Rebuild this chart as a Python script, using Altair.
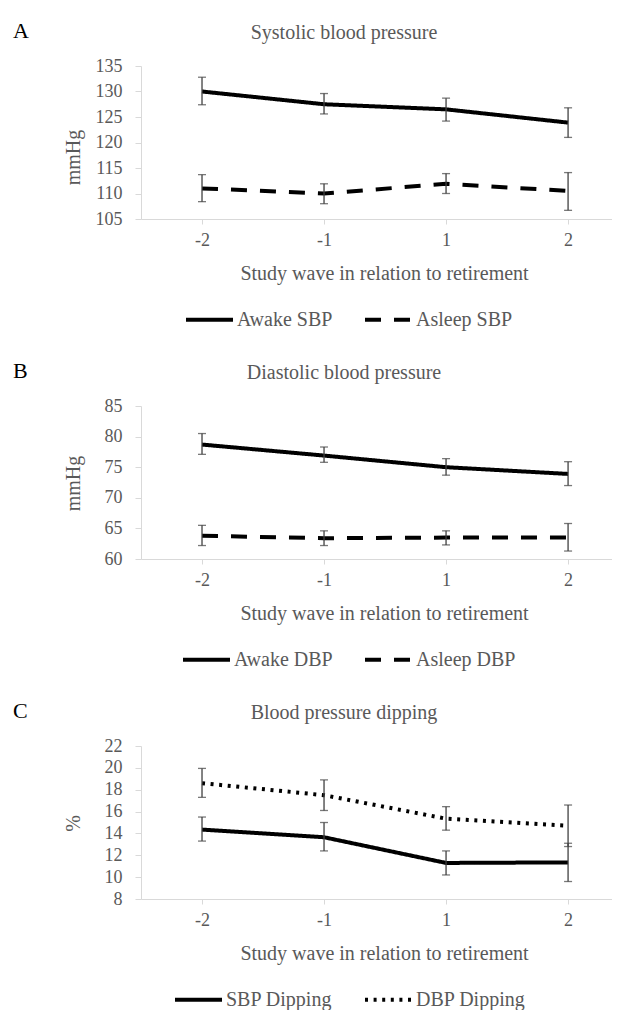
import json
import altair as alt
import pandas as pd

FONT = "Liberation Serif"
GREY = "#595959"
AXIS_GREY = "#d9d9d9"
BAR_GREY = "#404040"

waves = ["-2", "-1", "1", "2"]

# Panel A: systolic
sys_names = ["Awake SBP", "Asleep SBP"]
sys_awake = [130.0, 127.5, 126.5, 123.9]
sys_awake_lo = [127.4, 125.6, 124.2, 121.0]
sys_awake_hi = [132.8, 129.6, 128.7, 126.8]
sys_asleep = [111.0, 110.0, 111.9, 110.5]
sys_asleep_lo = [108.4, 108.0, 110.0, 106.7]
sys_asleep_hi = [113.7, 111.9, 113.9, 114.1]

# Panel B: diastolic
dia_names = ["Awake DBP", "Asleep DBP"]
dia_awake = [78.7, 76.9, 75.0, 73.9]
dia_awake_lo = [77.1, 75.8, 73.7, 72.0]
dia_awake_hi = [80.5, 78.3, 76.4, 75.9]
dia_asleep = [63.8, 63.4, 63.5, 63.5]
dia_asleep_lo = [62.2, 62.2, 62.3, 61.3]
dia_asleep_hi = [65.5, 64.6, 64.6, 65.8]

# Panel C: dipping
dip_names = ["SBP Dipping", "DBP Dipping"]
dip_sbp = [14.35, 13.65, 11.3, 11.35]
dip_sbp_lo = [13.3, 12.4, 10.2, 9.6]
dip_sbp_hi = [15.5, 15.0, 12.4, 13.1]
dip_dbp = [18.6, 17.5, 15.35, 14.7]
dip_dbp_lo = [17.3, 16.1, 14.3, 12.8]
dip_dbp_hi = [19.95, 18.9, 16.45, 16.6]

PLOT_W = 471
PLOT_H = 153


def panel(letter, title, ytitle, names, vals, los, his, ydomain, ystep,
          dashes, ytitle_y, legend_x):
    rows = []
    for s, name in enumerate(names):
        for i, w in enumerate(waves):
            rows.append(dict(wave=w, pos=i, series=name, value=vals[s][i],
                             lo=los[s][i], hi=his[s][i]))
    df = pd.DataFrame(rows)

    xscale = alt.Scale(domain=[-0.5, 3.36], nice=False, zero=False)
    yscale = alt.Scale(domain=ydomain, nice=False, zero=False)
    yvals = list(range(ydomain[0], ydomain[1] + 1, ystep))

    x_axis = alt.Axis(
        values=list(range(len(waves))),
        labelExpr=json.dumps(waves) + "[datum.value]",
        title="Study wave in relation to retirement",
        titleX=243, titleY=54, titleBaseline="middle", titleAlign="center",
        titleFont=FONT, titleFontSize=20, titleFontWeight="normal", titleColor=GREY,
        labelFont=FONT, labelFontSize=18, labelColor=GREY,
        labelBaseline="middle", labelPadding=16, tickSize=5,
        domainColor=AXIS_GREY, tickColor=AXIS_GREY, grid=False,
    )
    y_axis = alt.Axis(
        values=yvals, title=ytitle,
        titleX=-68, titleY=ytitle_y, titleAngle=270, titleBaseline="middle",
        titleAlign="center",
        titleFont=FONT, titleFontSize=20, titleFontWeight="normal", titleColor=GREY,
        labelFont=FONT, labelFontSize=18, labelColor=GREY,
        labelPadding=13, tickSize=6,
        domainColor=AXIS_GREY, tickColor=AXIS_GREY, grid=False,
    )

    X = alt.X("pos:Q", scale=xscale, axis=x_axis)

    base = alt.Chart(df)
    lines = base.mark_line(color="black", strokeWidth=4).encode(
        x=X,
        y=alt.Y("value:Q", scale=yscale, axis=y_axis),
        strokeDash=alt.StrokeDash(
            "series:N",
            scale=alt.Scale(domain=names, range=dashes),
            legend=alt.Legend(
                title=None, orient="none", legendX=legend_x, legendY=228,
                direction="horizontal", symbolType="stroke", symbolSize=2209,
                symbolStrokeWidth=4, symbolStrokeColor="black",
                labelFont=FONT, labelFontSize=20, labelColor=GREY,
                labelOffset=2, columnPadding=24, padding=0,
            ),
        ),
    )
    rules = base.mark_rule(color=BAR_GREY, strokeWidth=1.3).encode(
        x=X,
        y=alt.Y("lo:Q", scale=yscale, axis=y_axis),
        y2="hi:Q",
    )
    caps = base.transform_fold(["lo", "hi"], as_=["end", "endval"]).mark_tick(
        orient="horizontal", size=8, thickness=1.3, color=BAR_GREY
    ).encode(
        x=X,
        y=alt.Y("endval:Q", scale=yscale, axis=y_axis),
    )
    letter_txt = alt.Chart(pd.DataFrame({"t": [letter]})).mark_text(
        font=FONT, fontSize=22, color="black", align="left", baseline="middle"
    ).encode(text="t:N", x=alt.value(-128), y=alt.value(-35))
    title_txt = alt.Chart(pd.DataFrame({"t": [title]})).mark_text(
        font=FONT, fontSize=20, color=GREY, align="center", baseline="middle"
    ).encode(text="t:N", x=alt.value(203), y=alt.value(-33))

    return alt.layer(lines, rules, caps, letter_txt, title_txt).properties(
        width=PLOT_W, height=PLOT_H
    )


SOLID = [1, 0]
DASH = [16, 13]
DOT = [3, 5.6]

pA = panel("A", "Systolic blood pressure", "mmHg", sys_names,
           [sys_awake, sys_asleep], [sys_awake_lo, sys_asleep_lo],
           [sys_awake_hi, sys_asleep_hi], [105, 135], 5,
           [SOLID, DASH], 91, 43)
pB = panel("B", "Diastolic blood pressure", "mmHg", dia_names,
           [dia_awake, dia_asleep], [dia_awake_lo, dia_asleep_lo],
           [dia_awake_hi, dia_asleep_hi], [60, 85], 5,
           [SOLID, DASH], 77, 40)
pC = panel("C", "Blood pressure dipping", "%", dip_names,
           [dip_sbp, dip_dbp], [dip_sbp_lo, dip_dbp_lo],
           [dip_sbp_hi, dip_dbp_hi], [8, 22], 2,
           [SOLID, DOT], 77, 32)

chart = alt.vconcat(pA, pB, pC, spacing=30).resolve_scale(
    strokeDash="independent"
).properties(
    padding={"left": 5, "top": 12, "right": 0, "bottom": 0},
    background="white",
).configure_view(stroke=None)

chart.save("out.html", embed_options={"renderer": "svg", "actions": False})
